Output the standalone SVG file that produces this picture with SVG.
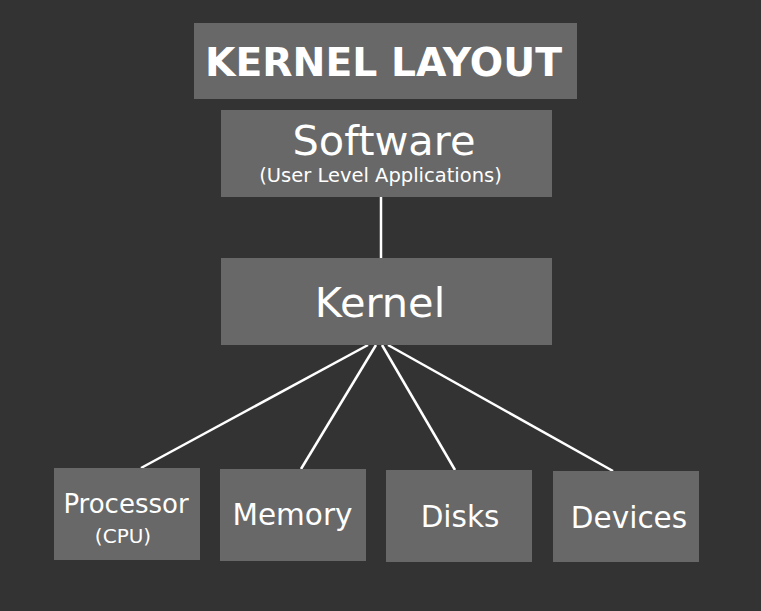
<svg xmlns="http://www.w3.org/2000/svg" width="761" height="611" viewBox="0 0 761 611">
<style>
.box{fill:#686868}
.t{fill:#ffffff;font-family:"DejaVu Sans","Liberation Sans",sans-serif;text-anchor:middle}
.ln{stroke:#ffffff;stroke-width:2.5;fill:none}
</style>
<rect x="0" y="0" width="761" height="611" fill="#333333"/>
<g id="title">
<rect class="box" x="194" y="23" width="383" height="76"/>
<text class="t" x="383.5" y="76" font-size="39" font-weight="bold" textLength="357" lengthAdjust="spacingAndGlyphs">KERNEL LAYOUT</text>
</g>
<g id="connectors">
<line class="ln" x1="381" y1="197" x2="381" y2="258"/>
<line class="ln" x1="368" y1="345" x2="141" y2="468"/>
<line class="ln" x1="376" y1="345" x2="301" y2="469"/>
<line class="ln" x1="382" y1="345" x2="455" y2="470"/>
<line class="ln" x1="388" y1="345" x2="613" y2="471"/>
</g>
<g id="software">
<rect class="box" x="221" y="110" width="331" height="87"/>
<text class="t" x="384" y="155" font-size="41.5">Software</text>
<text class="t" x="380.5" y="182" font-size="19.5">(User Level Applications)</text>
</g>
<g id="kernel">
<rect class="box" x="221" y="258" width="331" height="87"/>
<text class="t" x="380" y="317" font-size="41.5">Kernel</text>
</g>
<g id="processor">
<rect class="box" x="54" y="468" width="146" height="92"/>
<text class="t" x="126" y="513" font-size="26">Processor</text>
<text class="t" x="123" y="543" font-size="20">(CPU)</text>
</g>
<g id="memory">
<rect class="box" x="220" y="469" width="146" height="92"/>
<text class="t" x="292.5" y="525" font-size="29.5">Memory</text>
</g>
<g id="disks">
<rect class="box" x="386" y="470" width="146" height="92"/>
<text class="t" x="460" y="527" font-size="29.5">Disks</text>
</g>
<g id="devices">
<rect class="box" x="553" y="471" width="146" height="91"/>
<text class="t" x="629" y="528" font-size="29.5">Devices</text>
</g>
</svg>
